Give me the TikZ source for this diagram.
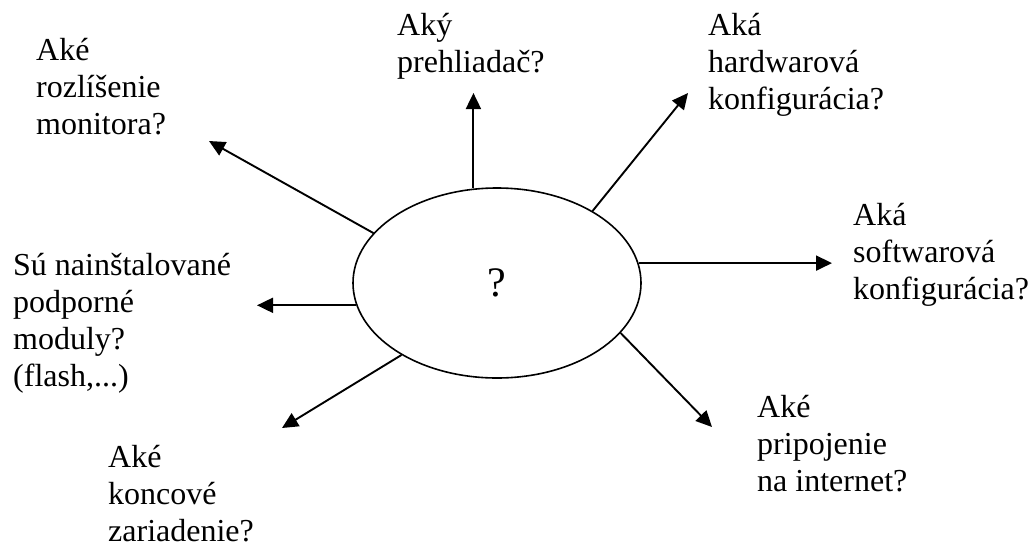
\documentclass[tikz,border=0pt]{standalone}
\usepackage{fontspec}
\setmainfont{Liberation Serif}
\usetikzlibrary{shapes.geometric,arrows.meta}

\tikzset{
  lbl/.style={anchor=base west, inner sep=0pt, font=\fontsize{32}{37}\selectfont},
  ray/.style={line width=1.9pt, -{Triangle[length=16pt,width=15pt]}},
  hub/.style={draw, ellipse, line width=1.6pt, minimum width=288pt,
              minimum height=190pt, inner sep=0pt,
              font=\fontsize{42}{48}\selectfont}
}
\newcommand{\stack}[1]{\begin{tabular}[t]{@{}l@{}}#1\end{tabular}}

\begin{document}
\begin{tikzpicture}[x=1pt, y=-1pt]
  \useasboundingbox (0,0) rectangle (1032,547);

  % central question
  \node[hub] (c) at (497,283) {\raisebox{-4pt}{?}};

  % surrounding questions
  \node[lbl] (mon) at (36,60)   {\stack{Aké\\rozlíšenie\\monitora?}};
  \node[lbl] (brw) at (397,35)  {\stack{Aký\\prehliadač?}};
  \node[lbl] (hw)  at (708,35)  {\stack{Aká\\hardwarová\\konfigurácia?}};
  \node[lbl] (sw)  at (853,225) {\stack{Aká\\softwarová\\konfigurácia?}};
  \node[lbl] (plg) at (13,275)  {\stack{Sú nainštalované\\podporné\\moduly?\\(flash,...)}};
  \node[lbl] (net) at (757,417) {\stack{Aké\\pripojenie\\na internet?}};
  \node[lbl] (dev) at (108,467) {\stack{Aké\\koncové\\zariadenie?}};

  % arrow tips
  \coordinate (tmon) at (209,141);
  \coordinate (tbrw) at (472.7,93);
  \coordinate (thw)  at (688,93);
  \coordinate (tsw)  at (832,261);
  \coordinate (tnet) at (712,427);
  \coordinate (tplg) at (257,308);
  \coordinate (tdev) at (282,428);

  % rays from the ellipse
  \draw[ray] (c.158.9) -- (tmon);
  \draw[ray] (c.104.6) -- (c.104.6 |- tbrw);
  \draw[ray] (c.37.25) -- (thw);
  \draw[ray] (c.8.75)  -- (c.8.75 -| tsw);
  \draw[ray] (c.-22.6) -- (tnet);
  \draw[ray] (c.189.8) -- (c.189.8 -| tplg);
  \draw[ray] (c.217.3) -- (tdev);
\end{tikzpicture}
\end{document}
